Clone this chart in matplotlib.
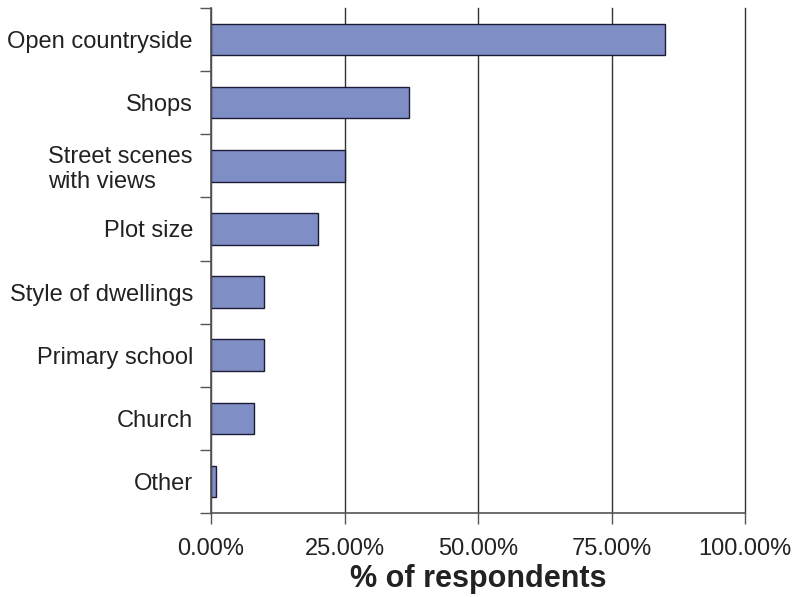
import matplotlib
matplotlib.use("Agg")
import matplotlib.pyplot as plt
from matplotlib.ticker import FixedLocator, PercentFormatter

plt.rcParams['font.family'] = ['Liberation Sans', 'DejaVu Sans']

categories = ["Open countryside", "Shops", "Street scenes\nwith views", "Plot size",
              "Style of dwellings", "Primary school", "Church", "Other"]
values = [85, 37, 25, 20, 10, 10, 8, 1]
x_ticks = [0, 25, 50, 75, 100]
x_label = "% of respondents"

fig = plt.figure(figsize=(7.95, 5.97), dpi=100)
ax = fig.add_axes([211/795, 1 - 513/597, (745 - 211)/795, (513 - 8)/597])

n = len(categories)
pos = list(range(n))
ax.barh(pos, values, height=0.5, color="#7F8EC4", edgecolor="#1c1c38",
        linewidth=1.0, zorder=3)

ax.set_xlim(0, 100)
ax.set_ylim(n - 0.5, -0.5)

ax.set_xticks(x_ticks)
ax.xaxis.set_major_formatter(PercentFormatter(decimals=2))
ax.grid(axis='x', color="#333333", linewidth=1.0, zorder=0)
for gl in ax.get_xgridlines():
    gl.set_clip_on(False)

# y tick marks at category boundaries, labels at centres
ax.yaxis.set_major_locator(FixedLocator([i - 0.5 for i in range(n + 1)]))
ax.yaxis.set_major_formatter(plt.NullFormatter())
ax.yaxis.set_minor_locator(FixedLocator(pos))
ax.set_yticklabels(categories, minor=True)
ax.tick_params(axis='y', which='minor', length=0, pad=13, labelsize=17)
ax.tick_params(axis='y', which='major', length=8, width=1.0, color="#555555")
ax.tick_params(axis='x', length=8, width=1.0, color="#555555", pad=10, labelsize=17,
               labelcolor="#222222")
for lbl in ax.get_yticklabels(minor=True):
    lbl.set_color("#222222")
    if "\n" in lbl.get_text():
        lbl.set_multialignment('left')
        lbl.set_linespacing(1.15)

for s in ['top', 'right']:
    ax.spines[s].set_visible(False)
for s in ['left', 'bottom']:
    ax.spines[s].set_color("#555555")
    ax.spines[s].set_linewidth(1.2)
    ax.spines[s].set_zorder(4)

ax.set_xlabel(x_label, fontsize=22, fontweight='bold', labelpad=3, color="#222222")

fig.savefig("out.png", dpi=100)
